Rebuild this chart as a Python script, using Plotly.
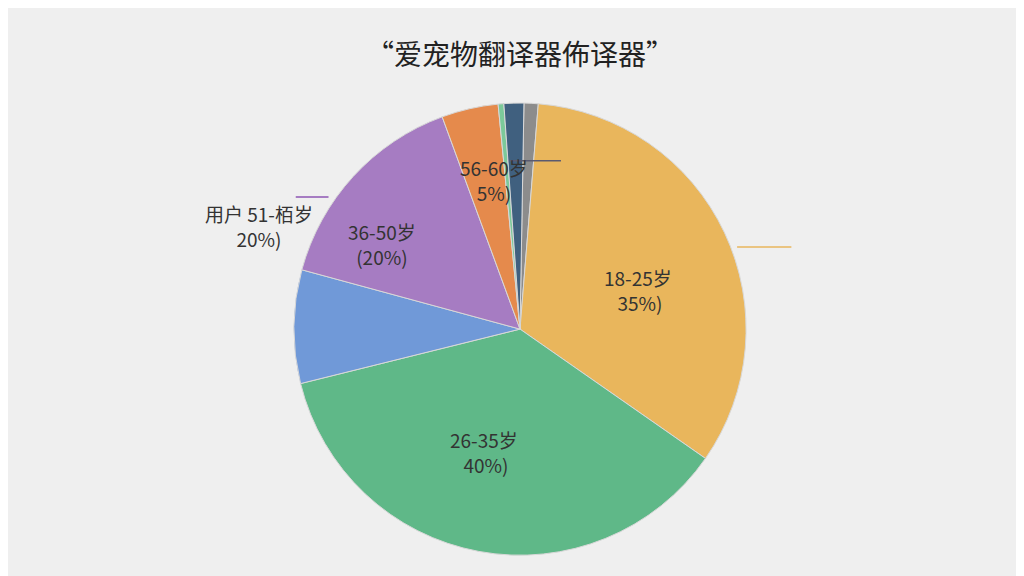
import plotly.graph_objects as go

labels = ["灰", "18-25岁", "26-35岁", "蓝", "36-50岁", "56-60岁", "浅绿", "深蓝"]
values = [1.0, 33, 36, 8, 15, 4, 0.4, 1.4]
colors = ["#8c8c8c", "#e9b65c", "#5fb888", "#7099d8", "#a67cc2", "#e58a4c", "#7cc99a", "#40607f"]

fig = go.Figure(go.Pie(
    labels=labels, values=values, sort=False, direction="clockwise", rotation=1,
    marker=dict(colors=colors, line=dict(color="#d8d8d8", width=1)),
    textinfo="none", hoverinfo="label+percent", showlegend=False,
    domain=dict(x=[0.27, 0.73], y=[0.05, 0.835]),
))

font = dict(family="Noto Sans CJK SC", size=19, color="#333333")
ann = [
    dict(x=0.615, y=0.51, text="18-25岁<br> 35%)"),
    dict(x=0.465, y=0.18, text="26-35岁<br> 40%)"),
    dict(x=0.365, y=0.59, text="36-50岁<br>(20%)"),
    dict(x=0.475, y=0.75, text="56-60岁<br>5%)"),
    dict(x=0.19, y=0.67, text="用户 51-栢岁<br>20%)"),
]
fig.update_layout(
    annotations=[dict(a, xref="paper", yref="paper", showarrow=False, font=font, align="center") for a in ann],
    shapes=[
        dict(type="line", xref="paper", yref="paper", x0=0.281, y0=0.672, x1=0.313, y1=0.672, line=dict(color="#a67cc2", width=2)),
        dict(type="line", xref="paper", yref="paper", x0=0.712, y0=0.585, x1=0.765, y1=0.585, line=dict(color="#e9b65c", width=1.5)),
        dict(type="line", xref="paper", yref="paper", x0=0.49, y0=0.735, x1=0.54, y1=0.735, line=dict(color="#5a5a70", width=1.5)),
    ],
    title=dict(text="“爱宠物翻译器佈译器”", x=0.5, y=0.935, xanchor="center",
               font=dict(family="Noto Sans CJK SC", size=28, color="#222222")),
    paper_bgcolor="#efefef", plot_bgcolor="#efefef",
    width=1024, height=576, margin=dict(l=0, r=0, t=0, b=0),
)
fig.write_html("out.html")
